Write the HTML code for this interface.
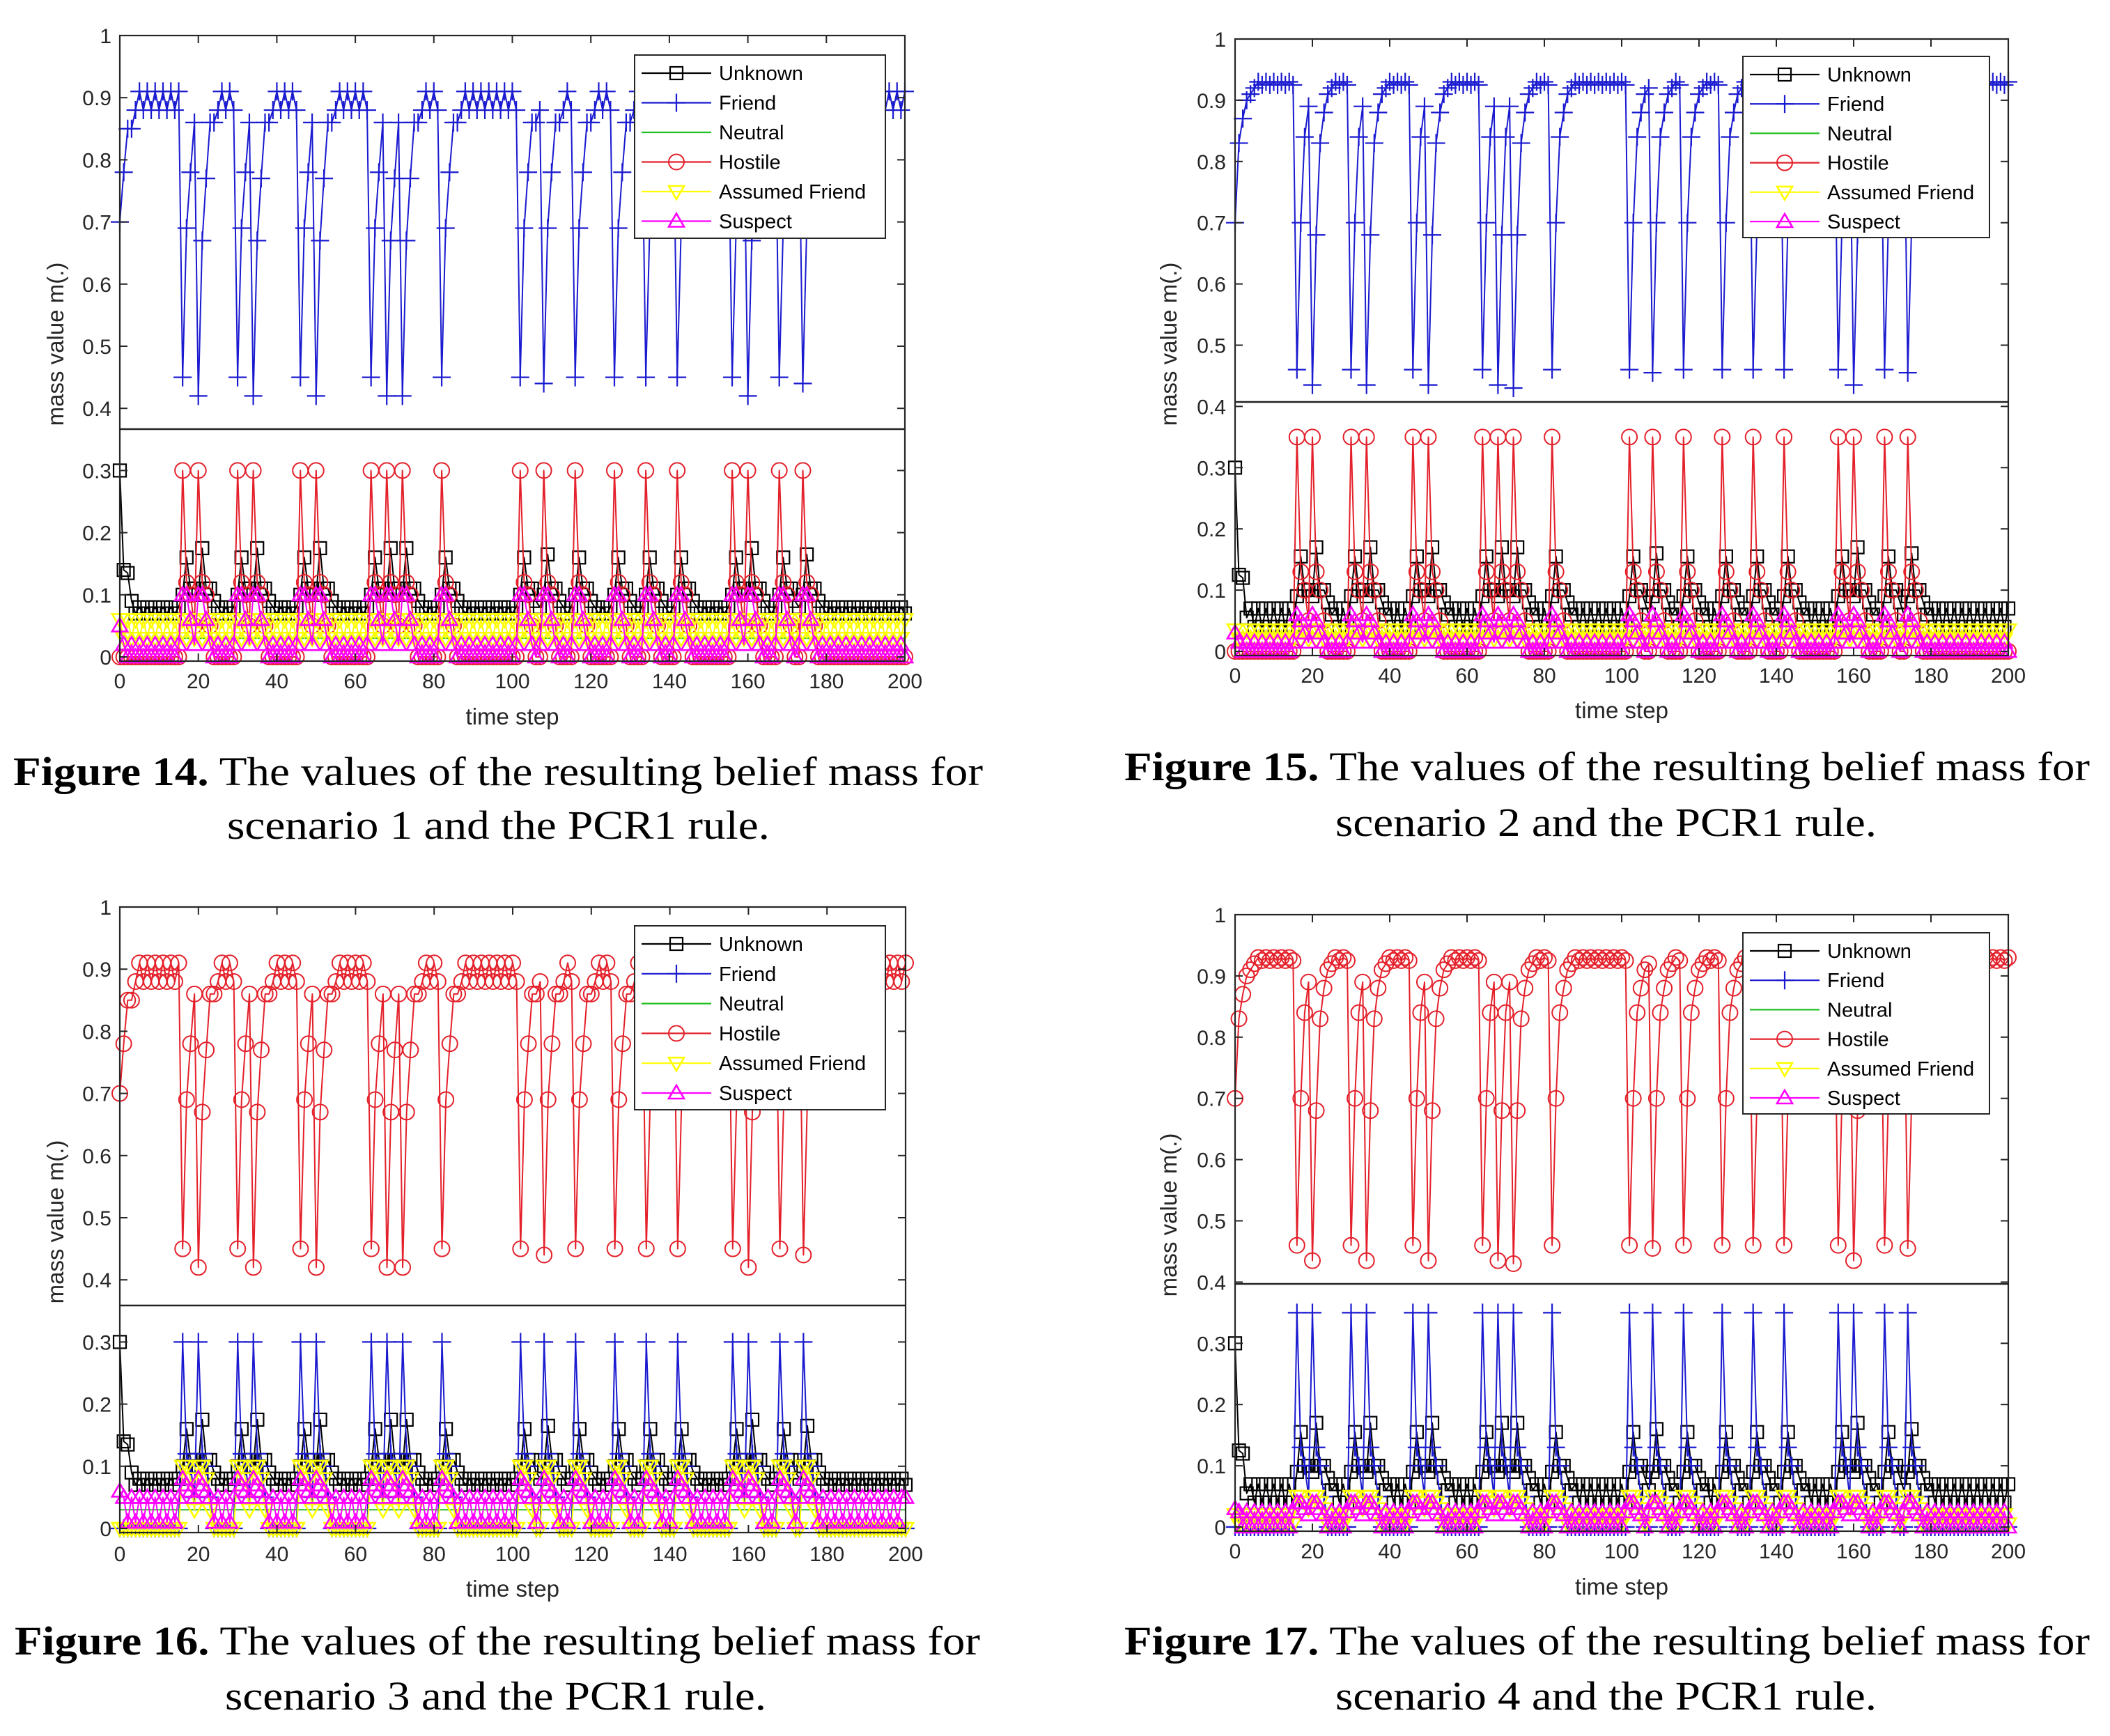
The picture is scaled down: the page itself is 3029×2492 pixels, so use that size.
<!DOCTYPE html>
<html><head><meta charset="utf-8"><title>Belief mass figures</title>
<style>
html,body{margin:0;padding:0;background:#fff;}
svg{display:block;}
.cap{font-family:"Liberation Serif",serif;font-size:58px;fill:#000;}
.tick{font-family:"Liberation Sans",sans-serif;font-size:30px;fill:#262626;}
.lab{font-family:"Liberation Sans",sans-serif;font-size:33px;fill:#262626;}
.leg{font-family:"Liberation Sans",sans-serif;font-size:29px;fill:#000;}
</style></head>
<body>
<svg id="root" width="3029" height="2492" viewBox="0 0 3029 2492" xmlns="http://www.w3.org/2000/svg">
<rect x="0" y="0" width="3029" height="2492" fill="#fff"/>
<text class="cap" x="19" y="1127" textLength="1392" lengthAdjust="spacingAndGlyphs"><tspan font-weight="bold">Figure 14.</tspan> The values of the resulting belief mass for</text>
<text class="cap" x="326" y="1204" textLength="779" lengthAdjust="spacingAndGlyphs">scenario 1 and the PCR1 rule.</text>
<text class="cap" x="1614" y="1120" textLength="1386" lengthAdjust="spacingAndGlyphs"><tspan font-weight="bold">Figure 15.</tspan> The values of the resulting belief mass for</text>
<text class="cap" x="1917" y="1200" textLength="777" lengthAdjust="spacingAndGlyphs">scenario 2 and the PCR1 rule.</text>
<text class="cap" x="21" y="2375" textLength="1386" lengthAdjust="spacingAndGlyphs"><tspan font-weight="bold">Figure 16.</tspan> The values of the resulting belief mass for</text>
<text class="cap" x="323" y="2454" textLength="777" lengthAdjust="spacingAndGlyphs">scenario 3 and the PCR1 rule.</text>
<text class="cap" x="1614" y="2375" textLength="1386" lengthAdjust="spacingAndGlyphs"><tspan font-weight="bold">Figure 17.</tspan> The values of the resulting belief mass for</text>
<text class="cap" x="1917" y="2454" textLength="777" lengthAdjust="spacingAndGlyphs">scenario 4 and the PCR1 rule.</text>
</svg>
<script>
// ---- data ----
const xTicks = [0,20,40,60,80,100,120,140,160,180,200];
const yTicks = [0,0.1,0.2,0.3,0.4,0.5,0.6,0.7,0.8,0.9,1];
const yTickLabels = ["0","0.1","0.2","0.3","0.4","0.5","0.6","0.7","0.8","0.9","1"];
const legendNames = ["Unknown","Friend","Neutral","Hostile","Assumed Friend","Suspect"];

const main1 = [
.70,.78,.85,.85,.88,.91,.88,.91,.88,.91,.88,.91,.88,.91,.88,.91,
.45,.69,.78,.86,
.42,.67,.77,.86,.86,.88,.91,.88,.91,.88,
.45,.69,.78,.86,
.42,.67,.77,.86,.86,.88,.91,.88,.91,.88,.91,.88,
.45,.69,.78,.86,
.42,.67,.77,.86,.86,.88,.91,.88,.91,.88,.91,.88,.91,.88,
.45,.69,.78,.86,
.42,.67,.77,.86,
.42,.67,.77,.86,.86,.88,.91,.88,.91,.88,
.45,.69,.78,.86,.86,.88,.91,.88,.91,.88,.91,.88,.91,.88,.91,.88,.91,.88,.91,.88,
.45,.69,.78,.86,.86,.88,
.44,.69,.78,.86,.86,.88,.91,.88,
.45,.69,.78,.86,.86,.88,.91,.88,.91,.88,
.45,.69,.78,.86,.86,.88,.91,.88,
.45,.69,.78,.86,.86,.88,.91,.88,
.45,.69,.78,.86,.86,.88,.91,.88,.91,.88,.91,.88,.91,.88,
.45,.69,.78,.86,
.42,.67,.77,.86,.86,.88,.91,.88,
.45,.69,.78,.86,.86,.88,
.44,.69,.78,.86,.86,.88,.91,
.88,.91,.88,.91,.88,.91,.88,.91,.88,.91,.88,.91,.88,.91,.88,.91,.88,.91,.88,.91];

const peak1 = [
0,0,0,0,0,0,0,0,0,0,0,0,0,0,0,0,
.30,.12,.10,.05,
.30,.12,.10,.05,0,0,0,0,0,0,
.30,.12,.10,.05,
.30,.12,.10,.05,0,0,0,0,0,0,0,0,
.30,.12,.10,.05,
.30,.12,.10,.05,0,0,0,0,0,0,0,0,0,0,
.30,.12,.10,.05,
.30,.12,.10,.05,
.30,.12,.10,.05,0,0,0,0,0,0,
.30,.12,.10,.05,0,0,0,0,0,0,0,0,0,0,0,0,0,0,0,0,
.30,.12,.10,.05,0,0,
.30,.12,.10,.05,0,0,0,0,
.30,.12,.10,.05,0,0,0,0,0,0,
.30,.12,.10,.05,0,0,0,0,
.30,.12,.10,.05,0,0,0,0,
.30,.12,.10,.05,0,0,0,0,0,0,0,0,0,0,
.30,.12,.10,.05,
.30,.12,.10,.05,0,0,0,0,
.30,.12,.10,.05,0,0,
.30,.12,.10,.05,0,0,0,
0,0,0,0,0,0,0,0,0,0,0,0,0,0,0,0,0,0,0,0];

const unk1 = [
.30,.14,.135,.09,.07,.08,.07,.08,.07,.08,.07,.08,.07,.08,.07,.08,
.10,.16,.11,.11,
.10,.175,.11,.11,.09,.08,.07,.08,.07,.08,
.10,.16,.11,.11,
.10,.175,.11,.11,.09,.08,.07,.08,.07,.08,.07,.08,
.10,.16,.11,.11,
.10,.175,.11,.11,.09,.08,.07,.08,.07,.08,.07,.08,.07,.08,
.10,.16,.11,.11,
.10,.175,.11,.11,
.10,.175,.11,.11,.09,.08,.07,.08,.07,.08,
.10,.16,.11,.11,.09,.08,.07,.08,.07,.08,.07,.08,.07,.08,.07,.08,.07,.08,.07,.08,
.10,.16,.11,.11,.09,.08,
.10,.165,.11,.11,.09,.08,.07,.08,
.10,.16,.11,.11,.09,.08,.07,.08,.07,.08,
.10,.16,.11,.11,.09,.08,.07,.08,
.10,.16,.11,.11,.09,.08,.07,.08,
.10,.16,.11,.11,.09,.08,.07,.08,.07,.08,.07,.08,.07,.08,
.10,.16,.11,.11,
.10,.175,.11,.11,.09,.08,.07,.08,
.10,.16,.11,.11,.09,.08,
.10,.165,.11,.11,.09,.08,.07,
.08,.07,.08,.07,.08,.07,.08,.07,.08,.07,.08,.07,.08,.07,.08,.07,.08,.07,.08,.07];

const main2 = [
.70,.83,.87,.90,.91,.92,.93,.925,.93,.925,.93,.925,.93,.925,.93,.925,
.46,.70,.84,.89,
.435,.68,.83,.88,.91,.92,.93,.925,.93,.925,
.46,.70,.84,.89,
.435,.68,.83,.88,.91,.92,.93,.925,.93,.925,.93,.925,
.46,.70,.84,.89,
.435,.68,.83,.88,.91,.92,.93,.925,.93,.925,.93,.925,.93,.925,
.46,.70,.84,.89,
.435,.68,.84,.89,
.43,.68,.83,.88,.91,.92,.93,.925,.93,.925,
.46,.70,.84,.88,.91,.92,.93,.925,.93,.925,.93,.925,.93,.925,.93,.925,.93,.925,.93,.925,
.46,.70,.84,.88,.91,.92,
.455,.70,.84,.88,.91,.92,.93,.925,
.46,.70,.84,.88,.91,.92,.93,.925,.93,.925,
.46,.70,.84,.88,.91,.92,.93,.925,
.46,.70,.84,.88,.91,.92,.93,.925,
.46,.70,.84,.88,.91,.92,.93,.925,.93,.925,.93,.925,.93,.925,
.46,.70,.84,.89,
.435,.68,.83,.88,.91,.92,.93,.925,
.46,.70,.84,.88,.91,.92,
.455,.70,.84,.88,.91,.92,.93,
.925,.93,.925,.93,.925,.93,.925,.93,.925,.93,.925,.93,.925,.93,.925,.93,.925,.93,.925,.93];

const peak2 = [
0,0,0,0,0,0,0,0,0,0,0,0,0,0,0,0,
.35,.13,.10,.05,
.35,.13,.10,.05,0,0,0,0,0,0,
.35,.13,.10,.05,
.35,.13,.10,.05,0,0,0,0,0,0,0,0,
.35,.13,.10,.05,
.35,.13,.10,.05,0,0,0,0,0,0,0,0,0,0,
.35,.13,.10,.05,
.35,.13,.10,.05,
.35,.13,.10,.05,0,0,0,0,0,0,
.35,.13,.10,.05,0,0,0,0,0,0,0,0,0,0,0,0,0,0,0,0,
.35,.13,.10,.05,0,0,
.35,.13,.10,.05,0,0,0,0,
.35,.13,.10,.05,0,0,0,0,0,0,
.35,.13,.10,.05,0,0,0,0,
.35,.13,.10,.05,0,0,0,0,
.35,.13,.10,.05,0,0,0,0,0,0,0,0,0,0,
.35,.13,.10,.05,
.35,.13,.10,.05,0,0,0,0,
.35,.13,.10,.05,0,0,
.35,.13,.10,.05,0,0,0,
0,0,0,0,0,0,0,0,0,0,0,0,0,0,0,0,0,0,0,0];

const unk2 = [
.30,.125,.12,.055,.07,.04,.07,.04,.07,.04,.07,.04,.07,.04,.07,.04,
.09,.155,.10,.10,
.09,.17,.10,.10,.08,.06,.07,.04,.07,.04,
.09,.155,.10,.10,
.09,.17,.10,.10,.08,.06,.07,.04,.07,.04,.07,.04,
.09,.155,.10,.10,
.09,.17,.10,.10,.08,.06,.07,.04,.07,.04,.07,.04,.07,.04,
.09,.155,.10,.10,
.09,.17,.10,.10,
.09,.17,.10,.10,.08,.06,.07,.04,.07,.04,
.09,.155,.10,.10,.08,.06,.07,.04,.07,.04,.07,.04,.07,.04,.07,.04,.07,.04,.07,.04,
.09,.155,.10,.10,.08,.06,
.09,.16,.10,.10,.08,.06,.07,.04,
.09,.155,.10,.10,.08,.06,.07,.04,.07,.04,
.09,.155,.10,.10,.08,.06,.07,.04,
.09,.155,.10,.10,.08,.06,.07,.04,
.09,.155,.10,.10,.08,.06,.07,.04,.07,.04,.07,.04,.07,.04,
.09,.155,.10,.10,
.09,.17,.10,.10,.08,.06,.07,.04,
.09,.155,.10,.10,.08,.06,
.09,.16,.10,.10,.08,.06,.07,
.04,.07,.04,.07,.04,.07,.04,.07,.04,.07,.04,.07,.04,.07,.04,.07,.04,.07,.04,.07];

const neutralAll = [
.03,.03,.03,.03,.03,.03,.03,.03,.03,.03,.03,.03,.03,.03,.03,.03,.03,.03,.03,.03,
.03,.03,.03,.03,.03,.03,.03,.03,.03,.03,.03,.03,.03,.03,.03,.03,.03,.03,.03,.03,
.03,.03,.03,.03,.03,.03,.03,.03,.03,.03,.03,.03,.03,.03,.03,.03,.03,.03,.03,.03,
.03,.03,.03,.03,.03,.03,.03,.03,.03,.03,.03,.03,.03,.03,.03,.03,.03,.03,.03,.03,
.03,.03,.03,.03,.03,.03,.03,.03,.03,.03,.03,.03,.03,.03,.03,.03,.03,.03,.03,.03,
.03,.03,.03,.03,.03,.03,.03,.03,.03,.03,.03,.03,.03,.03,.03,.03,.03,.03,.03,.03,
.03,.03,.03,.03,.03,.03,.03,.03,.03,.03,.03,.03,.03,.03,.03,.03,.03,.03,.03,.03,
.03,.03,.03,.03,.03,.03,.03,.03,.03,.03,.03,.03,.03,.03,.03,.03,.03,.03,.03,.03,
.03,.03,.03,.03,.03,.03,.03,.03,.03,.03,.03,.03,.03,.03,.03,.03,.03,.03,.03,.03,
.03,.03,.03,.03,.03,.03,.03,.03,.03,.03,.03,.03,.03,.03,.03,.03,.03,.03,.03,.03,.03];

const af14 = [
.06,.03,.06,.03,.06,.03,.06,.03,.06,.03,.06,.03,.06,.03,.06,.03,.06,.03,.06,.03,
.06,.03,.06,.03,.06,.03,.06,.03,.06,.03,.06,.03,.06,.03,.06,.03,.06,.03,.06,.03,
.06,.03,.06,.03,.06,.03,.06,.03,.06,.03,.06,.03,.06,.03,.06,.03,.06,.03,.06,.03,
.06,.03,.06,.03,.06,.03,.06,.03,.06,.03,.06,.03,.06,.03,.06,.03,.06,.03,.06,.03,
.06,.03,.06,.03,.06,.03,.06,.03,.06,.03,.06,.03,.06,.03,.06,.03,.06,.03,.06,.03,
.06,.03,.06,.03,.06,.03,.06,.03,.06,.03,.06,.03,.06,.03,.06,.03,.06,.03,.06,.03,
.06,.03,.06,.03,.06,.03,.06,.03,.06,.03,.06,.03,.06,.03,.06,.03,.06,.03,.06,.03,
.06,.03,.06,.03,.06,.03,.06,.03,.06,.03,.06,.03,.06,.03,.06,.03,.06,.03,.06,.03,
.06,.03,.06,.03,.06,.03,.06,.03,.06,.03,.06,.03,.06,.03,.06,.03,.06,.03,.06,.03,
.06,.03,.06,.03,.06,.03,.06,.03,.06,.03,.06,.03,.06,.03,.06,.03,.06,.03,.06,.03,.06];

const af15 = [
.035,.02,.035,.02,.035,.02,.035,.02,.035,.02,.035,.02,.035,.02,.035,.02,.035,.02,.035,.02,
.035,.02,.035,.02,.035,.02,.035,.02,.035,.02,.035,.02,.035,.02,.035,.02,.035,.02,.035,.02,
.035,.02,.035,.02,.035,.02,.035,.02,.035,.02,.035,.02,.035,.02,.035,.02,.035,.02,.035,.02,
.035,.02,.035,.02,.035,.02,.035,.02,.035,.02,.035,.02,.035,.02,.035,.02,.035,.02,.035,.02,
.035,.02,.035,.02,.035,.02,.035,.02,.035,.02,.035,.02,.035,.02,.035,.02,.035,.02,.035,.02,
.035,.02,.035,.02,.035,.02,.035,.02,.035,.02,.035,.02,.035,.02,.035,.02,.035,.02,.035,.02,
.035,.02,.035,.02,.035,.02,.035,.02,.035,.02,.035,.02,.035,.02,.035,.02,.035,.02,.035,.02,
.035,.02,.035,.02,.035,.02,.035,.02,.035,.02,.035,.02,.035,.02,.035,.02,.035,.02,.035,.02,
.035,.02,.035,.02,.035,.02,.035,.02,.035,.02,.035,.02,.035,.02,.035,.02,.035,.02,.035,.02,
.035,.02,.035,.02,.035,.02,.035,.02,.035,.02,.035,.02,.035,.02,.035,.02,.035,.02,.035,.02,.035];

const s14 = [
.05,.02,0,.02,0,.02,0,.02,0,.02,0,.02,0,.02,0,.02,
.10,.10,.06,.02,
.10,.10,.06,.02,0,.02,0,.02,0,.02,
.10,.10,.06,.02,
.10,.10,.06,.02,0,.02,0,.02,0,.02,0,.02,
.10,.10,.06,.02,
.10,.10,.06,.02,0,.02,0,.02,0,.02,0,.02,0,.02,
.10,.10,.06,.02,
.10,.10,.06,.02,
.10,.10,.06,.02,0,.02,0,.02,0,.02,
.10,.10,.06,.02,0,.02,0,.02,0,.02,0,.02,0,.02,0,.02,0,.02,0,.02,
.10,.10,.06,.02,0,.02,
.10,.10,.06,.02,0,.02,0,.02,
.10,.10,.06,.02,0,.02,0,.02,0,.02,
.10,.10,.06,.02,0,.02,0,.02,
.10,.10,.06,.02,0,.02,0,.02,
.10,.10,.06,.02,0,.02,0,.02,0,.02,0,.02,0,.02,
.10,.10,.06,.02,
.10,.10,.06,.02,0,.02,0,.02,
.10,.10,.06,.02,0,.02,
.10,.10,.06,.02,0,.02,0,
.02,0,.02,0,.02,0,.02,0,.02,0,.02,0,.02,0,.02,0,.02,0,.02,0];

const s15 = [
.03,.015,0,.015,0,.015,0,.015,0,.015,0,.015,0,.015,0,.015,
.06,.05,.03,.015,
.06,.05,.03,.015,0,.015,0,.015,0,.015,
.06,.05,.03,.015,
.06,.05,.03,.015,0,.015,0,.015,0,.015,0,.015,
.06,.05,.03,.015,
.06,.05,.03,.015,0,.015,0,.015,0,.015,0,.015,0,.015,
.06,.05,.03,.015,
.06,.05,.03,.015,
.06,.05,.03,.015,0,.015,0,.015,0,.015,
.06,.05,.03,.015,0,.015,0,.015,0,.015,0,.015,0,.015,0,.015,0,.015,0,.015,
.06,.05,.03,.015,0,.015,
.06,.05,.03,.015,0,.015,0,.015,
.06,.05,.03,.015,0,.015,0,.015,0,.015,
.06,.05,.03,.015,0,.015,0,.015,
.06,.05,.03,.015,0,.015,0,.015,
.06,.05,.03,.015,0,.015,0,.015,0,.015,0,.015,0,.015,
.06,.05,.03,.015,
.06,.05,.03,.015,0,.015,0,.015,
.06,.05,.03,.015,0,.015,
.06,.05,.03,.015,0,.015,0,
.015,0,.015,0,.015,0,.015,0,.015,0,.015,0,.015,0,.015,0,.015,0,.015,0];

const af16 = [
0,0,0,0,0,0,0,0,0,0,0,0,0,0,0,0,
.10,.10,.08,.03,
.10,.10,.08,.03,0,0,0,0,0,0,
.10,.10,.08,.03,
.10,.10,.08,.03,0,0,0,0,0,0,0,0,
.10,.10,.08,.03,
.10,.10,.08,.03,0,0,0,0,0,0,0,0,0,0,
.10,.10,.08,.03,
.10,.10,.08,.03,
.10,.10,.08,.03,0,0,0,0,0,0,
.10,.10,.08,.03,0,0,0,0,0,0,0,0,0,0,0,0,0,0,0,0,
.10,.10,.08,.03,0,0,
.10,.10,.08,.03,0,0,0,0,
.10,.10,.08,.03,0,0,0,0,0,0,
.10,.10,.08,.03,0,0,0,0,
.10,.10,.08,.03,0,0,0,0,
.10,.10,.08,.03,0,0,0,0,0,0,0,0,0,0,
.10,.10,.08,.03,
.10,.10,.08,.03,0,0,0,0,
.10,.10,.08,.03,0,0,
.10,.10,.08,.03,0,0,0,
0,0,0,0,0,0,0,0,0,0,0,0,0,0,0,0,0,0,0,0];

const s16 = [
.06,.05,.01,.05,.01,.05,.01,.05,.01,.05,.01,.05,.01,.05,.01,.05,
.08,.07,.06,.05,
.08,.07,.06,.05,.01,.05,.01,.05,.01,.05,
.08,.07,.06,.05,
.08,.07,.06,.05,.01,.05,.01,.05,.01,.05,.01,.05,
.08,.07,.06,.05,
.08,.07,.06,.05,.01,.05,.01,.05,.01,.05,.01,.05,.01,.05,
.08,.07,.06,.05,
.08,.07,.06,.05,
.08,.07,.06,.05,.01,.05,.01,.05,.01,.05,
.08,.07,.06,.05,.01,.05,.01,.05,.01,.05,.01,.05,.01,.05,.01,.05,.01,.05,.01,.05,
.08,.07,.06,.05,.01,.05,
.08,.07,.06,.05,.01,.05,.01,.05,
.08,.07,.06,.05,.01,.05,.01,.05,.01,.05,
.08,.07,.06,.05,.01,.05,.01,.05,
.08,.07,.06,.05,.01,.05,.01,.05,
.08,.07,.06,.05,.01,.05,.01,.05,.01,.05,.01,.05,.01,.05,
.08,.07,.06,.05,
.08,.07,.06,.05,.01,.05,.01,.05,
.08,.07,.06,.05,.01,.05,
.08,.07,.06,.05,.01,.05,.01,
.05,.01,.05,.01,.05,.01,.05,.01,.05,.01,.05,.01,.05,.01,.05,.01,.05,.01,.05,.05];

const af17 = [
.02,.005,.02,.005,.02,.005,.02,.005,.02,.005,.02,.005,.02,.005,.02,.005,
.05,.05,.04,.03,
.05,.05,.04,.03,.005,.02,.005,.02,.005,.02,
.05,.05,.04,.03,
.05,.05,.04,.03,.005,.02,.005,.02,.005,.02,.005,.02,
.05,.05,.04,.03,
.05,.05,.04,.03,.005,.02,.005,.02,.005,.02,.005,.02,.005,.02,
.05,.05,.04,.03,
.05,.05,.04,.03,
.05,.05,.04,.03,.005,.02,.005,.02,.005,.02,
.05,.05,.04,.03,.005,.02,.005,.02,.005,.02,.005,.02,.005,.02,.005,.02,.005,.02,.005,.02,
.05,.05,.04,.03,.005,.02,
.05,.05,.04,.03,.005,.02,.005,.02,
.05,.05,.04,.03,.005,.02,.005,.02,.005,.02,
.05,.05,.04,.03,.005,.02,.005,.02,
.05,.05,.04,.03,.005,.02,.005,.02,
.05,.05,.04,.03,.005,.02,.005,.02,.005,.02,.005,.02,.005,.02,
.05,.05,.04,.03,
.05,.05,.04,.03,.005,.02,.005,.02,
.05,.05,.04,.03,.005,.02,
.05,.05,.04,.03,.005,.02,.005,
.02,.005,.02,.005,.02,.005,.02,.005,.02,.005,.02,.005,.02,.005,.02,.005,.02,.005,.02,.005];

const s17 = [
.03,.025,0,.025,0,.025,0,.025,0,.025,0,.025,0,.025,0,.025,
.04,.04,.03,.02,
.04,.04,.03,.02,0,.025,0,.025,0,.025,
.04,.04,.03,.02,
.04,.04,.03,.02,0,.025,0,.025,0,.025,0,.025,
.04,.04,.03,.02,
.04,.04,.03,.02,0,.025,0,.025,0,.025,0,.025,0,.025,
.04,.04,.03,.02,
.04,.04,.03,.02,
.04,.04,.03,.02,0,.025,0,.025,0,.025,
.04,.04,.03,.02,0,.025,0,.025,0,.025,0,.025,0,.025,0,.025,0,.025,0,.025,
.04,.04,.03,.02,0,.025,
.04,.04,.03,.02,0,.025,0,.025,
.04,.04,.03,.02,0,.025,0,.025,0,.025,
.04,.04,.03,.02,0,.025,0,.025,
.04,.04,.03,.02,0,.025,0,.025,
.04,.04,.03,.02,0,.025,0,.025,0,.025,0,.025,0,.025,
.04,.04,.03,.02,
.04,.04,.03,.02,0,.025,0,.025,
.04,.04,.03,.02,0,.025,
.04,.04,.03,.02,0,.025,0,
.025,0,.025,0,.025,0,.025,0,.025,0,.025,0,.025,0,.025,0,.025,0,.025,0];

// ---- rendering ----
const NS = "http://www.w3.org/2000/svg";
const root = document.getElementById("root");
const COL = {unknown:"#000000", friend:"#1a1ad0", neutral:"#22c022", hostile:"#e4202a", af:"#ffff00", suspect:"#ff00ff"};

function mk(tag, attrs, parent){
  const e = document.createElementNS(NS, tag);
  for (const k in attrs) e.setAttribute(k, attrs[k]);
  parent.appendChild(e);
  return e;
}

function marker(g, kind, cx, cy, color){
  let e;
  if (kind === "square") {
    e = mk("rect", {x:cx-9, y:cy-9, width:18, height:18, fill:"none", stroke:color, "stroke-width":2.2}, g);
  } else if (kind === "circle") {
    e = mk("circle", {cx:cx, cy:cy, r:11, fill:"none", stroke:color, "stroke-width":2}, g);
  } else if (kind === "plus") {
    e = mk("path", {d:`M${cx-13} ${cy}H${cx+13}M${cx} ${cy-13}V${cy+13}`, stroke:color, "stroke-width":2.2, fill:"none"}, g);
  } else if (kind === "down") {
    e = mk("path", {d:`M${cx-11} ${cy-8}L${cx+11} ${cy-8}L${cx} ${cy+11}Z`, stroke:color, "stroke-width":2.6, fill:"none"}, g);
  } else if (kind === "up") {
    e = mk("path", {d:`M${cx-11} ${cy+8}L${cx+11} ${cy+8}L${cx} ${cy-11}Z`, stroke:color, "stroke-width":2.6, fill:"none"}, g);
  }
  if (e) {
    
    
  }
}

function drawFigure(id, geo, series){
  const g = mk("g", {}, root);
  
  
  const xs = t => geo.x0 + t * (geo.x1 - geo.x0) / 200;
  const ys = v => geo.y0 - v * (geo.y0 - geo.y1);
  const bottom = geo.y0 + 6;

  const cid = id + "-clip";
  const defs = mk("defs", {}, g);
  const cp = mk("clipPath", {id:cid}, defs);
  mk("rect", {x:geo.x0-20, y:geo.y1-20, width:geo.x1-geo.x0+40, height:bottom-geo.y1+40}, cp);

  const plot = mk("g", {"clip-path":`url(#${cid})`}, g);
  
  

  series.forEach(s => {
    const sg = mk("g", {}, plot);
    
    
    let d = "";
    s.vals.forEach((v, t) => { d += (t ? "L" : "M") + xs(t).toFixed(1) + " " + ys(v).toFixed(1); });
    const line = mk("path", {d:d, fill:"none", stroke:s.color, "stroke-width":2, "stroke-linejoin":"round"}, sg);
    
    
    if (s.marker) s.vals.forEach((v, t) => marker(sg, s.marker, xs(t), ys(v), s.color));
  });

  const box = mk("rect", {x:geo.x0, y:geo.y1, width:geo.x1-geo.x0, height:bottom-geo.y1, fill:"none", stroke:"#262626", "stroke-width":2.2}, g);
  
  
  const sep = mk("line", {x1:geo.x0, x2:geo.x1, y1:geo.sep, y2:geo.sep, stroke:"#222", "stroke-width":2.5}, g);
  
  

  xTicks.forEach(tv => {
    const x = xs(tv);
    mk("line", {x1:x, x2:x, y1:bottom, y2:bottom-11, stroke:"#262626", "stroke-width":2}, g);
    mk("line", {x1:x, x2:x, y1:geo.y1, y2:geo.y1+11, stroke:"#262626", "stroke-width":2}, g);
    const tx = mk("text", {x:x, y:geo.tickY+11, "text-anchor":"middle", class:"tick"}, g);
    tx.textContent = String(tv);
    
    
  });
  yTicks.forEach((tv, i) => {
    const y = ys(tv);
    mk("line", {x1:geo.x0, x2:geo.x0+11, y1:y, y2:y, stroke:"#262626", "stroke-width":2}, g);
    mk("line", {x1:geo.x1, x2:geo.x1-11, y1:y, y2:y, stroke:"#262626", "stroke-width":2}, g);
    const tx = mk("text", {x:geo.tickRight, y:y+11, "text-anchor":"end", class:"tick"}, g);
    tx.textContent = yTickLabels[i];
    
    
  });
  const xt = mk("text", {x:(geo.x0+geo.x1)/2, y:geo.titleY+12, "text-anchor":"middle", class:"lab"}, g);
  xt.textContent = "time step";
  
  
  const yt = mk("text", {x:0, y:0, "text-anchor":"middle", class:"lab", transform:`translate(${geo.ylabX+12},${geo.ylabY}) rotate(-90)`}, g);
  yt.textContent = "mass value m(.)";
  
  

  const L = geo.legend;
  const lg = mk("g", {}, g);
  
  
  mk("rect", {x:L.x, y:L.y, width:L.w, height:L.h, fill:"#fff", stroke:"#262626", "stroke-width":2}, lg);
  const order = ["Unknown","Friend","Neutral","Hostile","Assumed Friend","Suspect"];
  order.forEach((nm, i) => {
    const s = series.find(q => q.name === nm);
    const cy = L.y + 26 + i * L.pitch;
    const eg = mk("g", {}, lg);
    
    
    mk("line", {x1:L.x+10, x2:L.x+110, y1:cy, y2:cy, stroke:s.color, "stroke-width":2.2}, eg);
    if (s.marker) marker(eg, s.marker, L.x+60, cy, s.color);
    const tx = mk("text", {x:L.x+121, y:cy+10, class:"leg"}, eg);
    tx.textContent = legendNames[i];
  });
}

function buildSeries(unk, friend, hostile, af, sus){
  return [
    {name:"Unknown", vals:unk, color:COL.unknown, marker:"square"},
    {name:"Friend", vals:friend, color:COL.friend, marker:"plus"},
    {name:"Neutral", vals:neutralAll, color:COL.neutral, marker:null},
    {name:"Hostile", vals:hostile, color:COL.hostile, marker:"circle"},
    {name:"Assumed Friend", vals:af, color:COL.af, marker:"down"},
    {name:"Suspect", vals:sus, color:COL.suspect, marker:"up"}
  ];
}

drawFigure("figure-14-chart", {x0:172,x1:1299,y1:51,y0:943,sep:616,tickY:977,titleY:1028,ylabX:79,ylabY:494,tickRight:160,
  legend:{x:911,y:79,w:360,h:263,pitch:42.5}}, buildSeries(unk1, main1, peak1, af14, s14));
drawFigure("figure-15-chart", {x0:1773,x1:2883,y1:56,y0:935,sep:577,tickY:969,titleY:1019,ylabX:1677,ylabY:494,tickRight:1760,
  legend:{x:2502,y:81,w:354,h:260,pitch:42.2}}, buildSeries(unk2, main2, peak2, af15, s15));
drawFigure("figure-16-chart", {x0:172,x1:1300,y1:1302,y0:2194,sep:1874,tickY:2230,titleY:2280,ylabX:79,ylabY:1754,tickRight:160,
  legend:{x:911,y:1329,w:360,h:264,pitch:42.8}}, buildSeries(unk1, peak1, main1, af16, s16));
drawFigure("figure-17-chart", {x0:1773,x1:2883,y1:1313,y0:2192,sep:1843,tickY:2226,titleY:2277,ylabX:1677,ylabY:1744,tickRight:1760,
  legend:{x:2502,y:1339,w:354,h:260,pitch:42.2}}, buildSeries(unk2, peak2, main2, af17, s17));
</script>
</body></html>
